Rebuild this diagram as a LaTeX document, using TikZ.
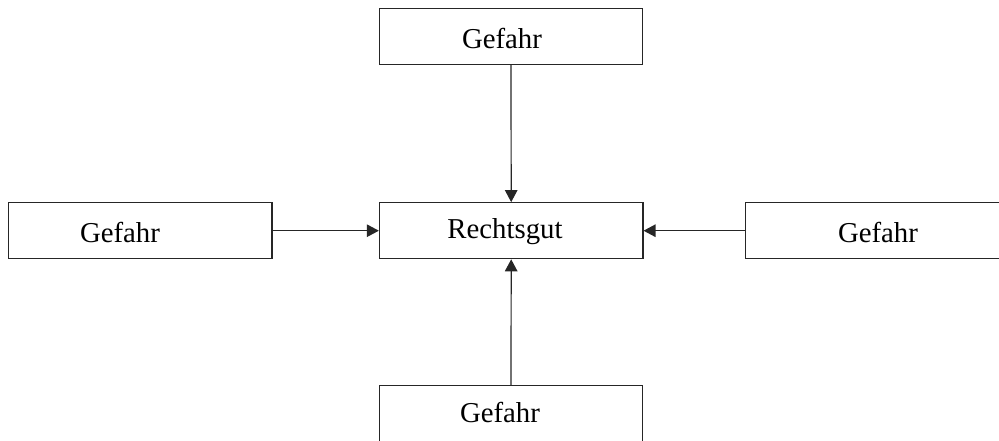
\documentclass[tikz,border=0pt]{standalone}
\usepackage{fontspec}
\setmainfont{Liberation Serif}
\usetikzlibrary{arrows.meta}
\begin{document}
\begin{tikzpicture}[x=1pt,y=-1pt,
  box/.style={draw=black!85,line width=1.2pt,rectangle,inner sep=0pt,
    minimum width=263.5pt,minimum height=56pt},
  txt/.style={anchor=base,inner sep=0pt,font=\fontsize{28.8}{30}\selectfont},
  link/.style={draw=black!85,line width=1.2pt,-{Triangle[length=12pt,width=12.5pt]}}]
  \useasboundingbox (0,0) rectangle (999,440);
  \clip (0,0) rectangle (999,440);
  % boxes
  \node[box] (top)    at (511,36.5)  {};
  \node[box] (left)   at (140.3,230.7) {};
  \node[box] (centre) at (511.2,230.7) {};
  \node[box] (right)  at (877.3,230.7) {};
  \node[box] (bottom) at (511,413.5) {};
  % labels
  \node[txt] (ttop)    at (502,48)    {Gefahr};
  \node[txt] (tleft)   at (120,242.3) {Gefahr};
  \node[txt] (tcentre) at (505,238.5) {Rechtsgut};
  \node[txt] (tright)  at (878,242.3) {Gefahr};
  \node[txt] (tbottom) at (500,422.7) {Gefahr};
  % arrows into the centre box
  \draw[link] (top.south) -- (centre.north);
  \draw[link] (bottom.north) -- (centre.south);
  \draw[link] (left.east) -- (centre.west);
  \draw[link] (right.west) -- (centre.east);
\end{tikzpicture}
\end{document}
